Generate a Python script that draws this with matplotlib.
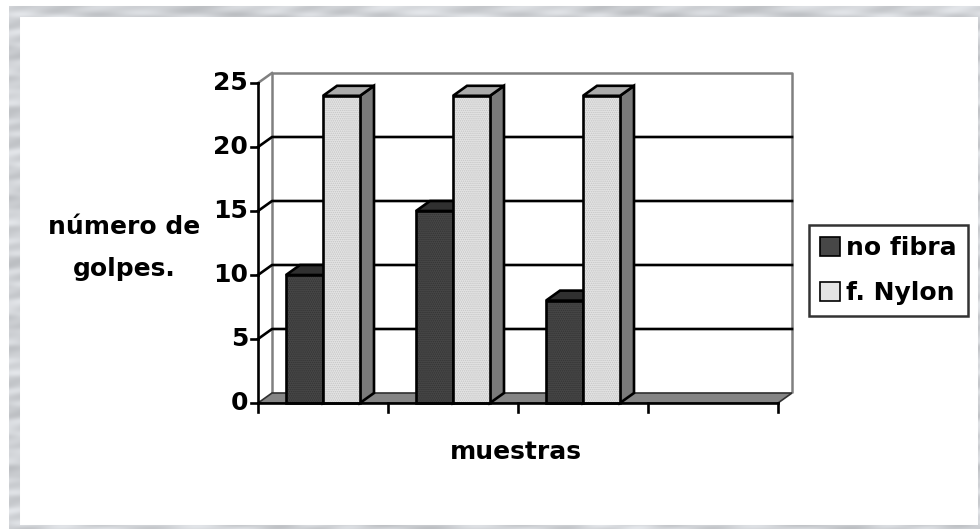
import numpy as np
import matplotlib
matplotlib.use("Agg")
import matplotlib.pyplot as plt
from matplotlib.patches import Polygon, Patch

# ---- data ----
categories = ["1", "2", "3", "4"]
series_names = ["no fibra", "f. Nylon"]
no_fibra = [10, 15, 8, None]
f_nylon = [24, 24, 24, None]
y_ticks = [0, 5, 10, 15, 20, 25]
y_label = "número de\ngolpes."
x_label = "muestras"

W, H, DPI = 980, 529, 100
FS = 18
fig = plt.figure(figsize=(W / DPI, H / DPI), dpi=DPI)
plt.rcParams["font.family"] = ["DejaVu Sans"]
plt.rcParams["hatch.linewidth"] = 0.7

# ---- marbled frame around the white panel ----
bg = fig.add_axes([0, 0, 1, 1])
bg.set_axis_off()
yy, xx = np.mgrid[0:H, 0:W].astype(float)
tex = (0.5 * np.sin(xx * 0.045 + 2.5 * np.sin(yy * 0.21))
       + 0.35 * np.sin(xx * 0.11 + yy * 0.37 + 1.3 * np.sin(xx * 0.02))
       + 0.25 * np.sin(yy * 0.09 - xx * 0.013))
g = 0.83 + 0.07 * tex
img = np.ones((H, W, 3))
frame = (xx >= 9) & (yy >= 6)
panel = (xx >= 20) & (xx < 977) & (yy >= 17) & (yy < 525)
ring = frame & ~panel
img[ring, 0] = g[ring] - 0.015
img[ring, 1] = g[ring] - 0.005
img[ring, 2] = g[ring] + 0.01
bg.imshow(np.clip(img, 0, 1), extent=(0, W, H, 0), aspect="auto",
          interpolation="bilinear")
bg.set_xlim(0, W)
bg.set_ylim(H, 0)


def fx(px):
    return px / W


def fy(py):
    return 1 - py / H


# ---- main plotting area (front plane of the 3D box) ----
left, right, top, bottom = 258, 778, 83, 403
ax = fig.add_axes([fx(left), fy(bottom), (right - left) / W, (bottom - top) / H])
ax.patch.set_visible(False)
ncat = len(categories)
ymax = y_ticks[-1]
ax.set_xlim(0, ncat)
ax.set_ylim(0, ymax)
for s in ax.spines.values():
    s.set_visible(False)
ax.set_xticks([])
ax.set_yticks([])

# depth offset of the back wall, in data units
px_x = (right - left) / ncat
px_y = (bottom - top) / ymax
DX = 14 / px_x
DY = 10 / px_y

wall_grey = "#808080"

# back wall outline
ax.plot([DX, DX, ncat + DX, ncat + DX], [DY, ymax + DY, ymax + DY, DY],
        color=wall_grey, lw=1.8, clip_on=False, zorder=1, solid_capstyle="butt")
# left wall top edge
ax.plot([0, DX], [ymax, ymax + DY], color=wall_grey, lw=1.8, clip_on=False, zorder=1)

# gridlines on back wall and left wall
for v in y_ticks[1:-1]:
    ax.plot([0, DX, ncat + DX], [v, v + DY, v + DY], color="black", lw=1.9,
            clip_on=False, zorder=2)

# floor
floor = Polygon([(0, 0), (ncat, 0), (ncat + DX, DY), (DX, DY)], closed=True,
                facecolor="#858585", edgecolor="#303030", lw=1.2,
                clip_on=False, zorder=3)
ax.add_patch(floor)

# ---- 3D bars ----
bar_w = 37 / px_x
offsets = [28 / px_x, 28 / px_x + bar_w]
front_cols = ["#474747", "#e4e4e4"]
hatch_cols = ["#333333", "#c4c4c4"]
top_cols = ["#303030", "#ababab"]
side_cols = ["#2a2a2a", "#7a7a7a"]
series = [no_fibra, f_nylon]

z = 4
for i in range(ncat):
    for k, vals in enumerate(series):
        v = vals[i]
        if v is None:
            continue
        x0 = i + offsets[k]
        x1 = x0 + bar_w
        side = Polygon([(x1, 0), (x1 + DX, DY), (x1 + DX, v + DY), (x1, v)],
                       closed=True, facecolor=side_cols[k], edgecolor="black",
                       lw=1.9, clip_on=False, zorder=z, joinstyle="miter")
        topf = Polygon([(x0, v), (x1, v), (x1 + DX, v + DY), (x0 + DX, v + DY)],
                       closed=True, facecolor=top_cols[k], edgecolor="black",
                       lw=1.9, clip_on=False, zorder=z, joinstyle="miter")
        ax.add_patch(side)
        ax.add_patch(topf)
        # fill, fine dotted texture, then outline
        ax.bar(x0, v, width=bar_w, align="edge", color=front_cols[k],
               lw=0, zorder=z + 0.2, clip_on=False)
        ax.bar(x0, v, width=bar_w, align="edge", facecolor="none",
               edgecolor=hatch_cols[k], hatch="........", lw=0,
               zorder=z + 0.3, clip_on=False)
        ax.bar(x0, v, width=bar_w, align="edge", facecolor="none",
               edgecolor="black", lw=1.9, zorder=z + 0.5, clip_on=False)
        z += 1

# ---- axes lines and ticks ----
ax.plot([0, 0], [0, ymax], color="black", lw=1.9, clip_on=False, zorder=20)
ax.plot([0, ncat], [0, 0], color="black", lw=1.9, clip_on=False, zorder=20)
tick_len_x = 7 / px_x
tick_len_y = 9 / px_y
for v in y_ticks:
    ax.plot([-tick_len_x, 0], [v, v], color="black", lw=1.9, clip_on=False, zorder=20)
    ax.text(-tick_len_x - 3 / px_x, v, str(v), ha="right", va="center",
            fontsize=FS, fontweight="bold", clip_on=False)
for i in range(ncat + 1):
    ax.plot([i, i], [0, -tick_len_y], color="black", lw=1.9, clip_on=False, zorder=20)

# ---- labels ----
fig.text(fx(124), fy(248), y_label, ha="center", va="center", fontsize=FS,
         fontweight="bold", linespacing=1.95)
fig.text(fx(516), fy(452), x_label, ha="center", va="center", fontsize=FS,
         fontweight="bold")

# ---- legend ----
handles = [Patch(facecolor=front_cols[k], edgecolor="black", lw=1.2)
           for k in range(2)]
leg = fig.legend(handles, series_names, loc="center",
                 bbox_to_anchor=(fx((810 + 967) / 2), fy((225 + 316) / 2)),
                 prop={"size": FS, "weight": "bold"}, frameon=True,
                 fancybox=False, edgecolor="black", handlelength=0.8,
                 handleheight=0.8, handletextpad=0.25, labelspacing=0.85,
                 borderpad=0.45, borderaxespad=0)
leg.get_frame().set_linewidth(1.8)

fig.savefig("out.png", dpi=DPI)
